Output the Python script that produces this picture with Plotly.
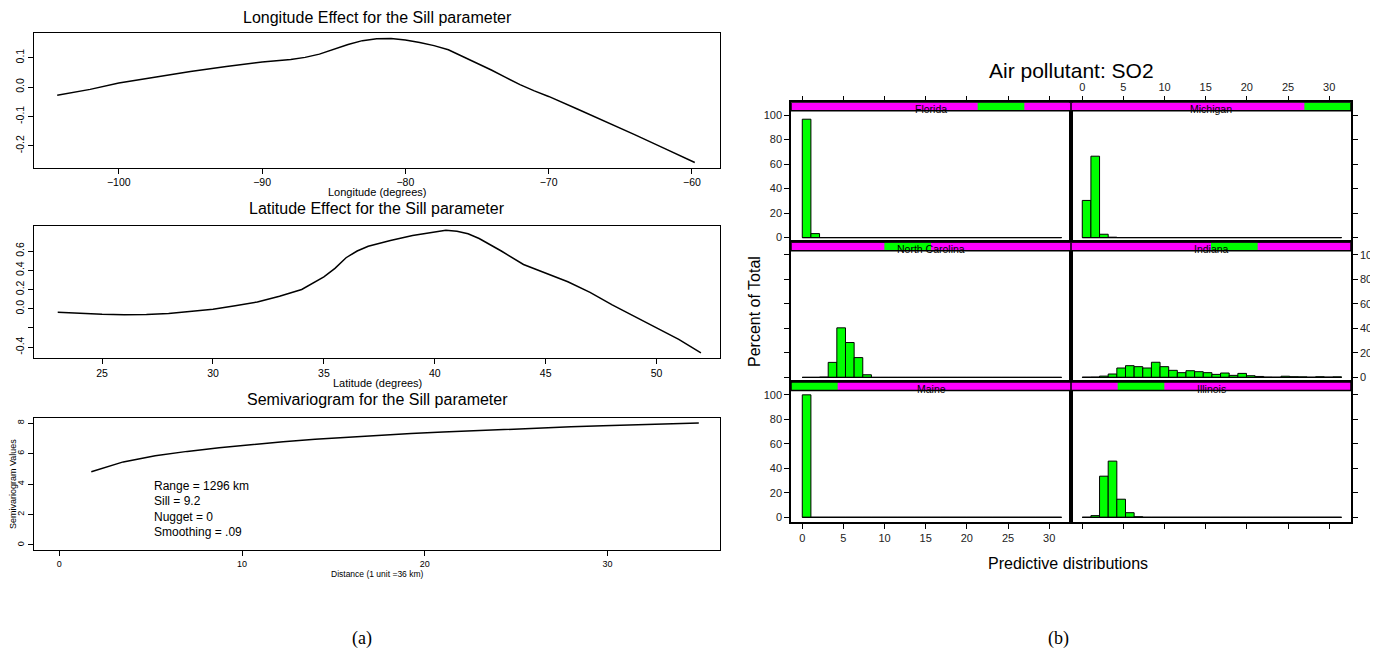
import plotly.graph_objects as go

# The page body adds an 8px margin, so the figure is offset by 8px in the window.
OFF = 8
W, H = 1378 - OFF, 662 - OFF
def X(px): return (px - OFF) / W
def Y(py): return 1 - (py - OFF) / H

# ---------------- data: left panels ----------------
lon = [-104.3, -102, -100, -97.5, -95, -92.5, -90, -88, -87, -86, -85, -84, -83, -82, -81,
       -80, -79, -78, -77, -76, -75, -74, -73, -72, -71, -70, -68, -66, -64, -62, -59.8]
lon_eff = [-0.028, -0.008, 0.014, 0.034, 0.053, 0.07, 0.085, 0.094, 0.101, 0.112, 0.128, 0.145,
           0.158, 0.164, 0.165, 0.160, 0.152, 0.141, 0.127, 0.104, 0.083, 0.058, 0.033, 0.008,
           -0.013, -0.032, -0.075, -0.118, -0.162, -0.207, -0.257]

lat = [23, 24, 25, 26, 27, 28, 29, 30, 31, 32, 33, 34, 35, 35.5, 36, 36.5, 37, 37.5, 38, 39,
       40, 40.5, 41, 41.5, 42, 43, 44, 45, 46, 47, 48, 49, 50, 51, 52]
lat_eff = [-0.038, -0.05, -0.058, -0.062, -0.06, -0.05, -0.03, -0.005, 0.03, 0.07, 0.13, 0.2,
           0.33, 0.42, 0.53, 0.6, 0.65, 0.68, 0.71, 0.76, 0.8, 0.815, 0.805, 0.78, 0.73, 0.6,
           0.46, 0.37, 0.28, 0.17, 0.04, -0.08, -0.2, -0.32, -0.46]

dist = [1.75, 3.5, 5.25, 7.0, 8.75, 10.5, 12.25, 14.0, 15.75, 17.5, 19.25, 21.0, 22.75, 24.5,
        26.25, 28.0, 29.75, 31.5, 33.25, 35.0]
semivar = [4.8, 5.45, 5.85, 6.14, 6.38, 6.6, 6.78, 6.94, 7.07, 7.2, 7.31, 7.41, 7.5, 7.6, 7.67,
           7.75, 7.82, 7.88, 7.94, 8.0]

sv_text = ["Range = 1296 km", "Sill = 9.2", "Nugget = 0", "Smoothing = .09"]
sv_text_x = 5.06
sv_text_y = [3.9, 2.88, 1.86, 0.84]

# ---------------- data: lattice histograms ----------------
bin_width = 1.05
n_bins = 30
states = ["Maine", "Illinois", "North Carolina", "Indiana", "Florida", "Michigan"]
hist = {
    "Maine": [100] + [0] * 29,
    "Illinois": [0, 1.4, 33.6, 45.9, 14.8, 3.8, 0.5] + [0] * 23,
    "North Carolina": [0, 0, 0.3, 12.3, 40.5, 28.5, 16.2, 2.2] + [0] * 22,
    "Indiana": [0.2, 0.3, 1.1, 2.8, 7.7, 9.6, 8.8, 7.7, 12.4, 8.8, 5.8, 3.9, 5.5, 4.7, 3.9,
                2.5, 3.6, 1.7, 3.3, 1.4, 0.8, 0.3, 0.2, 1.0, 0.6, 0.5, 0.2, 0.6, 0.3, 0.5],
    "Florida": [96.6, 3.2] + [0] * 28,
    "Michigan": [30.3, 66.4, 2.7, 0.3] + [0] * 26,
}
x_ticks_b = [0, 5, 10, 15, 20, 25, 30]
y_ticks_b = [0, 20, 40, 60, 80, 100]

edges = [i * bin_width for i in range(n_bins + 1)]
centers = [(edges[i] + edges[i + 1]) / 2 for i in range(n_bins)]

fig = go.Figure()
layout = dict(width=W, height=H, margin=dict(l=0, r=0, t=0, b=0, autoexpand=False),
              autosize=False, paper_bgcolor="white", plot_bgcolor="white", showlegend=False,
              font=dict(family="Liberation Sans, Arial, sans-serif", color="black"))
annotations = []
shapes = []

def left_axes(n, xdom, ydom, xr, yr, xt, yt, ytt, tfs):
    ax = dict(domain=[X(xdom[0]), X(xdom[1])], range=xr, showline=True, mirror=True,
              linecolor="black", linewidth=1.3, ticks="outside", ticklen=5, tickcolor="black",
              tickvals=xt, tickfont=dict(size=tfs), showgrid=False, zeroline=False,
              anchor="y%s" % n)
    ay = dict(domain=[Y(ydom[1]), Y(ydom[0])], range=yr, showline=True, mirror=True,
              linecolor="black", linewidth=1.3, ticks="outside", ticklen=5, tickcolor="black",
              tickvals=yt, ticktext=ytt, tickangle=-90, tickfont=dict(size=tfs),
              showgrid=False, zeroline=False, anchor="x%s" % n)
    return ax, ay

specs = [
    ("", (34, 720), (33, 167.5), [-105.92, -58.04], [-0.274, 0.184],
     [-100, -90, -80, -70, -60], [-0.2, -0.1, 0.0, 0.1], ["-0.2", "-0.1", "0.0", "0.1"], 10.5),
    ("2", (34, 720), (226, 358.3), [21.93, 52.86], [-0.516, 0.86],
     [25, 30, 35, 40, 45, 50], [-0.4, -0.2, 0.0, 0.2, 0.4, 0.6],
     ["-0.4", "", "0.0", "0.2", "0.4", "0.6"], 10.5),
    ("3", (34, 720), (417.7, 550), [-1.385, 36.16], [-0.33, 8.35],
     [0, 10, 20, 30], [0, 2, 4, 6, 8], ["0", "2", "4", "6", "8"], 9),
]
for n, xd, yd, xr, yr, xt, yt, ytt, tfs in specs:
    ax, ay = left_axes(n, xd, yd, xr, yr, xt, yt, ytt, tfs)
    layout["xaxis" + n] = ax
    layout["yaxis" + n] = ay

line = dict(color="black", width=1.5)
fig.add_trace(go.Scatter(x=lon, y=lon_eff, mode="lines", line=line, xaxis="x", yaxis="y"))
fig.add_trace(go.Scatter(x=lat, y=lat_eff, mode="lines", line=line, xaxis="x2", yaxis="y2"))
fig.add_trace(go.Scatter(x=dist, y=semivar, mode="lines", line=line, xaxis="x3", yaxis="y3"))

def ann(text, x, y, size, angle=0, family=None, xanchor="center", **kw):
    d = dict(text=text, x=x, y=y, xref="paper", yref="paper", showarrow=False,
             font=dict(size=size, color="black"), textangle=angle, xanchor=xanchor,
             yanchor="middle")
    if family:
        d["font"]["family"] = family
    d.update(kw)
    annotations.append(d)

ann("Longitude Effect for the Sill parameter", X(377), Y(18), 16)
ann("Longitude (degrees)", X(377), Y(192), 11)
ann("Latitude Effect for the Sill parameter", X(377), Y(208.5), 16)
ann("Latitude (degrees)", X(377), Y(383), 11)
ann("Semivariogram for the Sill parameter", X(377), Y(399), 16)
ann("Distance (1 unit =36 km)", X(377), Y(574), 8.5)
ann("Semivariogram Values", X(13), Y(484), 9, angle=-90)
for t, yv in zip(sv_text, sv_text_y):
    annotations.append(dict(text=t, x=sv_text_x, y=yv, xref="x3", yref="y3", showarrow=False,
                            xanchor="left", yanchor="middle", font=dict(size=12, color="black")))

# ---------------- lattice panels ----------------
top_px, panel_h, strip_h = 102.3, 139.9, 8.5
col_x = [(791, 1071), (1071, 1351)]
yr_b = [-3.8, 110.4]
strip_lo = yr_b[1] - strip_h * (yr_b[1] - yr_b[0]) / panel_h
layout_pos = {"Florida": (0, 0), "Michigan": (0, 1), "North Carolina": (1, 0),
              "Indiana": (1, 1), "Maine": (2, 0), "Illinois": (2, 1)}

for k, st in enumerate(states):
    n = str(4 + k)
    r, c = layout_pos[st]
    x0, x1 = col_x[c]
    y_top = top_px + r * panel_h
    y_bot = y_top + panel_h
    side_x = "top" if r == 0 else "bottom"
    layout["xaxis" + n] = dict(
        domain=[X(x0), X(x1)], range=[-1.37, 32.65], showline=True, mirror=True,
        linecolor="black", linewidth=1.5, side=side_x,
        ticks="outside" if r in (0, 2) else "", ticklen=5, tickcolor="black",
        tickvals=x_ticks_b, showticklabels=(r == 0 and c == 1) or (r == 2 and c == 0),
        tickfont=dict(size=11, color="#222"), showgrid=False, zeroline=False, anchor="y" + n)
    layout["yaxis" + n] = dict(
        domain=[Y(y_bot), Y(y_top)], range=yr_b, showline=True, mirror=True,
        linecolor="black", linewidth=1.5, side="left" if c == 0 else "right",
        ticks="outside", ticklen=5, tickcolor="black", tickvals=y_ticks_b,
        showticklabels=(c == 0 and r in (0, 2)) or (c == 1 and r == 1),
        tickfont=dict(size=11, color="#222"), showgrid=False, zeroline=False, anchor="x" + n)
    fig.add_trace(go.Scatter(x=[edges[0], edges[-1]], y=[0, 0], mode="lines",
                             line=dict(color="black", width=1.3), xaxis="x" + n, yaxis="y" + n))
    fig.add_trace(go.Bar(x=centers, y=hist[st], width=bin_width, xaxis="x" + n, yaxis="y" + n,
                         marker=dict(color="#00FF00", line=dict(color="black", width=1))))
    # strip
    lvl = k
    shapes.append(dict(type="rect", xref="x" + n, yref="y" + n, x0=-1.37, x1=32.65,
                       y0=strip_lo, y1=yr_b[1], fillcolor="#FF00FF", line=dict(width=0)))
    gx0 = -1.37 + lvl / 6 * (32.65 + 1.37)
    gx1 = -1.37 + (lvl + 1) / 6 * (32.65 + 1.37)
    shapes.append(dict(type="rect", xref="x" + n, yref="y" + n, x0=gx0, x1=gx1,
                       y0=strip_lo, y1=yr_b[1], fillcolor="#00FF00", line=dict(width=0)))
    shapes.append(dict(type="rect", xref="x" + n, yref="y" + n, x0=-1.37, x1=32.65,
                       y0=strip_lo, y1=yr_b[1], fillcolor="rgba(0,0,0,0)",
                       line=dict(color="black", width=1.5)))
    ann(st, X((x0 + x1) / 2), Y(y_top + strip_h / 2 + 2.5), 10.5)

ann("Air pollutant: SO2", X(1071), Y(70), 21)
ann("Percent of Total", X(755), Y(312), 16, angle=-90)
ann("Predictive distributions", X(1068), Y(563), 16)
ann("(a)", X(362), Y(638), 18, family="Liberation Serif, serif")
ann("(b)", X(1058), Y(638), 18, family="Liberation Serif, serif")

layout["annotations"] = annotations
layout["shapes"] = shapes
fig.update_layout(**layout)
fig.write_html("out.html")
